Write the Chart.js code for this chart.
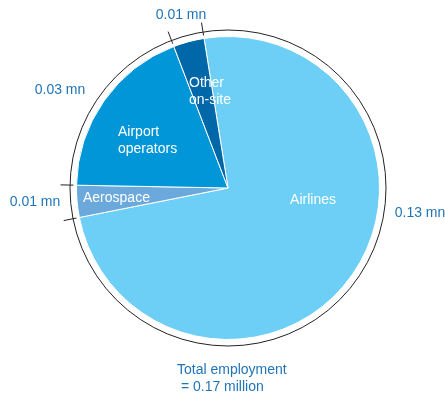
<!DOCTYPE html>
<html>
<head>
<meta charset="utf-8">
<script src="https://cdn.jsdelivr.net/npm/chart.js@4.4.1/dist/chart.umd.min.js"></script>
<style>
  html, body { margin: 0; padding: 0; background: #fff; }
  #wrap { width: 445px; height: 398px; }
</style>
</head>
<body>
<div id="wrap"><canvas id="pie"></canvas></div>
<script>
// employment by segment, millions
const segments = ['Airlines', 'Aerospace', 'Airport operators', 'Other on-site'];
const employment = [0.1265, 0.0058, 0.0321, 0.0056];
const valueLabels = ['0.13 mn', '0.01 mn', '0.03 mn', '0.01 mn'];
const sliceColors = ['#6dcff6', '#6ba9dc', '#0096d8', '#0067a8'];
const totalLines = ['Total employment', ' = 0.17 million'];

const FONT = '14px "Liberation Sans", Arial, sans-serif';
const VALUE_BLUE = '#1f74b8';

// outer ring + the little ticks at slice edges + all the texts
const ringPlugin = {
	id: 'ring',
	afterDatasetsDraw(chart){
		let ctx = chart.ctx;
		let arcs = chart.getDatasetMeta(0).data;
		let cx = arcs[0].x, cy = arcs[0].y, r = arcs[0].outerRadius;

		ctx.save();
		ctx.strokeStyle = '#222';
		ctx.lineWidth = 1;
		ctx.beginPath();
		ctx.arc(cx, cy, r + 6.5, 0, Math.PI * 2);
		ctx.stroke();

		// ticks at each slice boundary
		arcs.forEach(arc => {
			let a = arc.startAngle;
			ctx.beginPath();
			ctx.moveTo(cx + Math.cos(a) * (r + 3), cy + Math.sin(a) * (r + 3));
			ctx.lineTo(cx + Math.cos(a) * (r + 16), cy + Math.sin(a) * (r + 16));
			ctx.stroke();
		});

		ctx.font = FONT;
		ctx.textBaseline = 'middle';

		// value labels outside the ring (offsets from centre)
		let outside = [[192, 25], [-193, 14], [-168, -98], [-47, -173]];
		ctx.fillStyle = VALUE_BLUE;
		ctx.textAlign = 'center';
		outside.forEach((p, i) => {
			ctx.fillText(valueLabels[i], cx + p[0], cy + p[1]);
		});

		// slice names inside
		ctx.fillStyle = '#fff';
		ctx.textAlign = 'center';
		ctx.fillText('Airlines', cx + 85, cy + 12);
		ctx.textAlign = 'left';
		ctx.fillText('Aerospace', cx - 145, cy + 10);
		ctx.fillText('Airport', cx - 110, cy - 56);
		ctx.fillText('operators', cx - 110, cy - 39);
		ctx.fillText('Other', cx - 39, cy - 105);
		ctx.fillText('on-site', cx - 39, cy - 88);

		// total under the pie
		ctx.fillStyle = VALUE_BLUE;
		ctx.fillText(totalLines[0], cx - 51, cy + 182);
		ctx.fillText(totalLines[1], cx - 51, cy + 199);
		ctx.restore();
	}
};

document.addEventListener('DOMContentLoaded', () => {
	let ctx = document.querySelector('#pie').getContext('2d');
	new Chart(ctx, {
		type: 'pie',
		data: {
			labels: segments,
			datasets: [{
				data: employment,
				backgroundColor: sliceColors,
				borderColor: '#fff',
				borderWidth: 1,
				hoverOffset: 0
			}]
		},
		options: {
			responsive: true,
			maintainAspectRatio: false,
			animation: false,
			rotation: -9.1,
			layout: { padding: { left: 76, right: 65, top: 36, bottom: 58 } },
			plugins: {
				legend: { display: false },
				tooltip: { enabled: false }
			}
		},
		plugins: [ringPlugin]
	});
});
</script>
</body>
</html>
